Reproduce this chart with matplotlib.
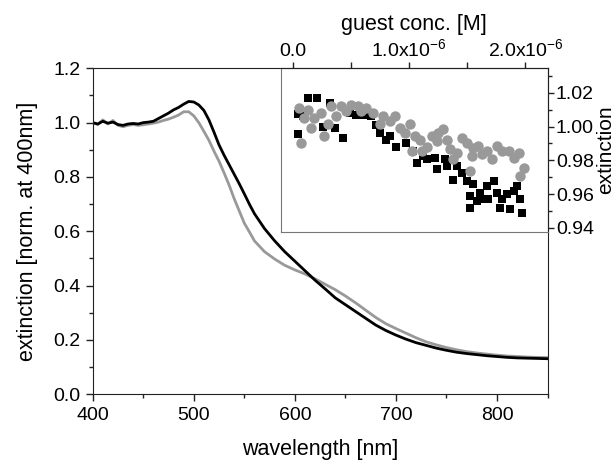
import numpy as np
import matplotlib
matplotlib.use('Agg')
import matplotlib.pyplot as plt
from matplotlib.ticker import MultipleLocator, FixedLocator, FixedFormatter

plt.rcParams['font.family'] = ['Liberation Sans', 'DejaVu Sans']
plt.rcParams['mathtext.default'] = 'regular'

# main spectra: wavelength [nm] and normalised extinction
wl = [400, 405, 410, 415, 420, 425, 430, 435, 440, 445, 450, 455, 460, 465, 470,
      475, 480, 485, 490, 495, 500, 505, 510, 515, 520, 525, 530, 535, 540, 545,
      550, 555, 560, 570, 580, 590, 600, 610, 620, 630, 640, 650, 660, 670, 680,
      690, 700, 710, 720, 730, 740, 750, 760, 770, 780, 790, 800, 810, 820, 830,
      840, 850]
ext_black = [1.000, 0.995, 1.005, 0.998, 1.002, 0.993, 0.990, 0.995, 0.997, 0.995,
             1.000, 1.002, 1.005, 1.015, 1.025, 1.035, 1.047, 1.056, 1.068, 1.078,
             1.076, 1.065, 1.045, 1.010, 0.965, 0.918, 0.880, 0.845, 0.810, 0.775,
             0.738, 0.700, 0.665, 0.610, 0.565, 0.525, 0.490, 0.455, 0.420, 0.388,
             0.355, 0.330, 0.305, 0.280, 0.255, 0.235, 0.218, 0.203, 0.190, 0.180,
             0.170, 0.162, 0.155, 0.150, 0.146, 0.142, 0.139, 0.136, 0.134, 0.133,
             0.132, 0.131]
ext_grey = [1.000, 0.993, 1.010, 0.995, 1.008, 0.990, 0.985, 0.990, 0.993, 0.990,
            0.992, 0.995, 0.998, 1.002, 1.008, 1.013, 1.020, 1.028, 1.040, 1.040,
            1.025, 1.000, 0.968, 0.935, 0.895, 0.858, 0.815, 0.770, 0.720, 0.675,
            0.630, 0.598, 0.565, 0.525, 0.498, 0.475, 0.458, 0.443, 0.425, 0.405,
            0.385, 0.362, 0.337, 0.310, 0.283, 0.260, 0.242, 0.225, 0.208, 0.193,
            0.182, 0.172, 0.164, 0.157, 0.152, 0.148, 0.144, 0.141, 0.139, 0.137,
            0.136, 0.135]

# inset: guest concentration [1e-6 M] vs extinction
conc_sq = [0.043, 0.043, 0.13, 0.207, 0.086, 0.259, 0.317, 0.432, 0.36, 0.489,
           0.547, 0.619, 0.676, 0.719, 0.806, 0.892, 0.978, 1.036, 1.065, 1.151,
           1.223, 1.309, 1.237, 1.324, 1.381, 1.453, 1.496, 1.554, 1.612, 1.525,
           1.640, 1.669, 1.727, 1.583, 1.755, 1.799, 1.842, 1.899, 1.871, 1.928,
           1.957, 1.784, 1.971, 1.525, 1.683, 1.41, 1.122, 0.835, 0.748, 0.576]
ext_sq = [1.0072, 0.9953, 1.017, 1.017, 1.006, 1.000, 1.014, 0.993, 0.999, 1.008,
          1.007, 1.007, 1.006, 1.001, 0.992, 0.988, 0.990, 0.9855, 0.9785, 0.9805,
          0.9815, 0.9805, 0.9746, 0.9765, 0.9686, 0.9726, 0.9677, 0.9657, 0.9608, 0.9588,
          0.9568, 0.9647, 0.9677, 0.9558, 0.9608, 0.9568, 0.9598, 0.9617, 0.9509, 0.9647,
          0.9568, 0.9519, 0.9489, 0.9519, 0.9568, 0.9765, 0.9825, 0.9943, 0.9963, 1.007]
conc_ci = [0.058, 0.072, 0.101, 0.13, 0.158, 0.187, 0.245, 0.273, 0.302, 0.331,
           0.374, 0.417, 0.46, 0.504, 0.561, 0.59, 0.633, 0.691, 0.748, 0.777,
           0.835, 0.878, 0.921, 0.964, 1.007, 1.05, 1.094, 1.151, 1.194, 1.237,
           1.295, 1.324, 1.353, 1.41, 1.453, 1.496, 1.539, 1.554, 1.597, 1.626,
           1.669, 1.712, 1.755, 1.799, 1.856, 1.899, 1.942, 1.986, 1.957, 1.525,
           1.381, 1.252, 1.108, 1.022]
ext_ci = [1.011, 0.9904, 1.005, 1.010, 0.9993, 1.005, 1.008, 0.9943, 1.0012, 1.012,
          1.006, 1.012, 1.009, 1.013, 1.012, 1.009, 1.011, 1.008, 1.0012, 1.006,
          1.003, 1.006, 0.9993, 0.9963, 1.0012, 0.9943, 0.9923, 0.988, 0.9943, 0.9914,
          0.9983, 0.9923, 0.9864, 0.9844, 0.9933, 0.9904, 0.9825, 0.9874, 0.9884, 0.9835,
          0.9854, 0.9805, 0.9884, 0.9854, 0.9854, 0.9815, 0.9844, 0.9756, 0.9706, 0.9736,
          0.9805, 0.9963, 0.9854, 0.9854]

fig = plt.figure(figsize=(6.15, 4.63), dpi=100)
W, H = 615.0, 463.0
ax = fig.add_axes([92.7 / W, 1 - 394.3 / H, (547.5 - 92.7) / W, (394.3 - 68.3) / H])

ax.plot(wl, ext_grey, color='#999999', lw=2.0)
ax.plot(wl, ext_black, color='black', lw=2.0)
ax.set_xlim(400, 850)
ax.set_ylim(0.0, 1.2)
ax.xaxis.set_major_locator(MultipleLocator(100))
ax.xaxis.set_minor_locator(MultipleLocator(50))
ax.yaxis.set_major_locator(MultipleLocator(0.2))
ax.yaxis.set_minor_locator(MultipleLocator(0.1))
ax.yaxis.set_major_formatter(plt.FormatStrFormatter('%.1f'))
ax.tick_params(which='both', direction='out', top=False, right=False,
               labelsize=14, color='#222222', width=1)
ax.tick_params(which='major', length=5, pad=4)
ax.tick_params(which='minor', length=3)
for s in ax.spines.values():
    s.set_color('#222222')
ax.set_xlabel('wavelength [nm]', fontsize=15.5, labelpad=11)
ax.set_ylabel('extinction [norm. at 400nm]', fontsize=15.5, labelpad=11)

# inset
ins = fig.add_axes([281 / W, 1 - 232 / H, (547.5 - 281) / W, (232 - 68.3) / H])
ins.patch.set_alpha(0)
ins.plot(np.array(conc_sq) * 1e-6, ext_sq, 's', color='black', ms=6.3, mew=0)
ins.plot(np.array(conc_ci) * 1e-6, ext_ci, 'o', color='#999999', ms=7.5, mew=0)
ins.set_xlim(-0.1e-6, 2.19e-6)
ins.set_ylim(0.9375, 1.0345)
ins.xaxis.tick_top()
ins.xaxis.set_label_position('top')
ins.xaxis.set_major_locator(FixedLocator([0, 1e-6, 2e-6]))
ins.xaxis.set_major_formatter(FixedFormatter(['0.0', '1.0x10$^{-6}$', '2.0x10$^{-6}$']))
ins.xaxis.set_minor_locator(FixedLocator([0.5e-6, 1.5e-6]))
ins.yaxis.tick_right()
ins.yaxis.set_label_position('right')
ins.yaxis.set_major_locator(MultipleLocator(0.02))
ins.yaxis.set_minor_locator(MultipleLocator(0.01))
ins.yaxis.set_major_formatter(plt.FormatStrFormatter('%.2f'))
ins.tick_params(which='both', direction='out', labelsize=14, color='#222222', width=1)
ins.tick_params(which='major', length=4, pad=2)
ins.tick_params(which='minor', length=3)
ins.tick_params(axis='x', which='minor', length=4)
ins.spines['left'].set_color('#777777')
ins.spines['bottom'].set_color('#777777')
ins.spines['right'].set_color('#222222')
ins.spines['top'].set_color('#222222')
ins.set_xlabel('guest conc. [M]', fontsize=15.5, labelpad=6)
ins.set_ylabel('extinction', fontsize=15, labelpad=2)

fig.savefig('out.png', dpi=100)
